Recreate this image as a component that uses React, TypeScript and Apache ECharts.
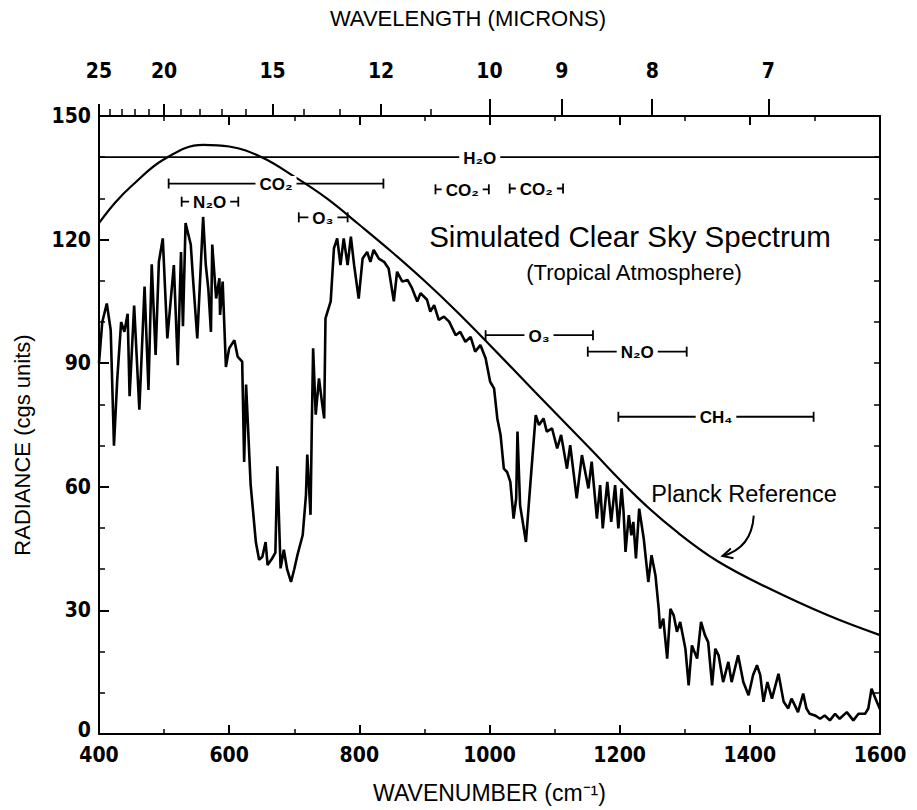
import React, { useEffect, useRef } from "react";
import * as echarts from "echarts";

// ---- data ----
const spectrumWavenumber = [
  400, 405, 412, 418, 423, 428, 434, 439, 444, 447, 454, 462, 470, 476, 481, 487, 492, 498, 505, 515,
  521, 526, 529, 533, 541, 544, 551, 560, 564, 568, 572, 574, 580, 585, 586, 590, 595, 600, 608, 613,
  620, 623, 626, 633, 641, 646, 651, 656, 659, 666, 671, 674, 677, 679, 684, 689, 695, 700, 705, 713,
  718, 720, 722, 725, 727, 729, 733, 738, 743, 746, 748, 756, 761, 766, 771, 776, 782, 787, 792, 799,
  805, 812, 817, 822, 830, 838, 845, 853, 858, 866, 874, 881, 889, 894, 904, 909, 915, 922, 930, 938,
  948, 955, 963, 971, 978, 986, 994, 1001, 1007, 1012, 1017, 1022, 1027, 1032, 1037, 1041, 1043, 1047, 1056, 1063,
  1071, 1076, 1083, 1088, 1096, 1104, 1110, 1119, 1124, 1134, 1142, 1152, 1157, 1165, 1170, 1174, 1181, 1187, 1193, 1198,
  1203, 1206, 1209, 1214, 1218, 1221, 1225, 1230, 1237, 1244, 1249, 1255, 1260, 1262, 1267, 1273, 1278, 1283, 1288, 1293,
  1301, 1306, 1311, 1319, 1325, 1331, 1336, 1342, 1347, 1352, 1359, 1367, 1372, 1382, 1390, 1398, 1405, 1411, 1416, 1421,
  1427, 1434, 1444, 1452, 1459, 1464, 1469, 1474, 1482, 1487, 1492, 1500, 1508, 1515, 1523, 1531, 1538, 1549, 1559, 1567,
  1577, 1582, 1587, 1593, 1600,
];
const spectrumRadiance = [
  90, 100, 104.5, 98, 70, 86, 100, 97.6, 102, 82, 104, 78.7, 108.6, 83.5, 114, 92, 114.6, 120.3, 96, 113.8,
  89.5, 117, 99, 124, 118.8, 111.5, 96, 125.5, 114, 108, 97.6, 118.8, 105.7, 110.6, 101.7, 109.8, 89.1, 93.6, 95.6, 91.6,
  90.4, 66, 84.8, 60.5, 46.6, 42.3, 43, 46.6, 41, 42.6, 44, 65, 50, 40.2, 44.7, 40, 36.9, 40, 43.5, 48.3,
  58, 67.8, 62, 53.2, 75, 93.6, 77.5, 86.3, 80, 76.6, 100.9, 105, 117.9, 120.3, 113.8, 120.3, 113.8, 120.7, 113.8, 105.7,
  115.4, 117, 114.6, 117.5, 115.4, 114.6, 113, 105, 112.2, 109.8, 110.2, 108.2, 105, 107, 105.4, 102.5, 104.1, 100.5, 101.3, 100.1,
  96.8, 97.6, 95.2, 96.4, 92.8, 94.4, 91.2, 85.5, 83.9, 76.6, 72.6, 64.4, 63.6, 61.2, 52.3, 57.2, 73.4, 55.5, 46.6, 61.2,
  77.4, 75, 76.6, 73.4, 74.2, 69.3, 72.6, 64.4, 70.1, 57.2, 67.7, 59.6, 66.1, 52.3, 60.4, 49.9, 61.2, 51.5, 60.4, 49.9,
  59.6, 53.9, 44.2, 53.1, 48.2, 51.5, 42.6, 54.7, 47.4, 36.9, 43.4, 38.5, 30.4, 25.6, 28, 18.3, 30.4, 28.8, 24.8, 27.2,
  20.7, 11.8, 21.5, 18.3, 27.2, 24, 22.3, 11.8, 20.7, 19.1, 12.6, 17.5, 12.6, 19.1, 12.6, 9.4, 14.3, 16.7, 14.3, 7.8,
  12.6, 8.6, 14.6, 7.8, 6.2, 8.6, 7, 5.3, 9.8, 6.2, 4.9, 4.5, 3.7, 4.5, 3.3, 4.9, 3.7, 5.3, 3.3, 4.9,
  4.9, 6.2, 11, 8.6, 6,
];

const planckWavenumber = [400, 425, 450, 500, 560, 600, 650, 700, 750, 800, 850, 900, 950, 1000, 1070, 1150, 1230, 1290, 1350, 1426, 1520, 1600];
const planckRadiance = [124, 129, 133, 139.5, 143, 142.6, 140, 135.3, 130, 123.6, 117, 110, 102.5, 94.5, 83, 70, 57, 48.8, 42, 35.6, 28.8, 24];

const wavenumberTicks = [400, 600, 800, 1000, 1200, 1400, 1600];
const radianceTicks = [0, 30, 60, 90, 120, 150];
const wavelengthShortTicks = [25, 20, 15, 12];
const wavelengthLongTicks = [10, 9, 8, 7];
const wavelengthMinor = [24, 23, 22, 21, 19, 18, 17, 16, 14, 13, 11];

const bandNames = ["H₂O", "CO₂", "N₂O", "O₃", "CO₂", "CO₂", "O₃", "N₂O", "CH₄"];
const bandStart = [400, 507, 527, 707, 917, 1031, 994, 1151, 1198];
const bandEnd = [1600, 837, 614, 782, 999, 1113, 1159, 1303, 1498];
const bandLevel = [140, 133.6, 129.2, 125.4, 132.2, 132.4, 96.8, 92.8, 77];
const bandLabelAt = [985, 672, 570, 744, 958, 1072, 1076, 1227, 1348];
const bandHasCaps = [false, true, true, true, true, true, true, true, true];

const NUM_FONT = '"Liberation Sans Narrow", "DejaVu Sans Condensed", "Liberation Sans", sans-serif';
const TXT_FONT = '"Liberation Sans", Arial, sans-serif';

export default function App() {
  const ref = useRef<HTMLDivElement>(null);

  useEffect(() => {
    if (!ref.current) return;
    const chart = echarts.init(ref.current, undefined, { renderer: "svg" });

    const axisLine = { show: true, onZero: false, lineStyle: { color: "#000", width: 2 } };
    const toCm = (w: number) => 1e4 / w;
    const plain = (v: number) => String(v);
    const wavelengthAll = [...wavelengthShortTicks, ...wavelengthLongTicks];

    const option: any = {
      animation: false,
      backgroundColor: "#fff",
      grid: { left: 99, right: 37, top: 116, bottom: 76, containLabel: false },
      xAxis: [
        {
          type: "value",
          position: "bottom",
          min: 400,
          max: 1600,
          interval: 200,
          axisLine,
          axisTick: { show: true, inside: true, length: 9, lineStyle: { color: "#000", width: 2 } },
          minorTick: { show: true, splitNumber: 2, length: 5, lineStyle: { color: "#000", width: 1.5 } },
          splitLine: { show: false },
          axisLabel: {
            show: true,
            margin: 12,
            color: "#000",
            fontFamily: NUM_FONT,
            fontWeight: "bold",
            fontSize: 21,
            lineHeight: 18,
            customValues: wavenumberTicks,
            formatter: plain,
          },
          name: "WAVENUMBER (cm⁻¹)",
          nameLocation: "middle",
          nameGap: 47,
          nameTextStyle: { color: "#000", fontFamily: TXT_FONT, fontSize: 23 },
        },
        {
          type: "value",
          position: "top",
          min: 400,
          max: 1600,
          interval: 200,
          axisLine,
          axisTick: { show: true, inside: true, length: 9, lineStyle: { color: "#000", width: 2 } },
          minorTick: { show: true, splitNumber: 2, length: 5, lineStyle: { color: "#000", width: 1.5 } },
          splitLine: { show: false },
          axisLabel: { show: false },
        },
        {
          type: "value",
          position: "top",
          min: 400,
          max: 1600,
          axisLine: { show: false, onZero: false },
          axisTick: {
            show: true,
            inside: false,
            length: 12,
            customValues: wavelengthShortTicks.map(toCm),
            lineStyle: { color: "#000", width: 2 },
          },
          splitLine: { show: false },
          axisLabel: {
            show: true,
            margin: 35,
            color: "#000",
            fontFamily: NUM_FONT,
            fontWeight: "bold",
            fontSize: 21,
            customValues: wavelengthAll.map(toCm),
            formatter: (v: number) => String(Math.round(1e4 / v)),
          },
        },
        {
          type: "value",
          position: "top",
          min: 400,
          max: 1600,
          axisLine: { show: false, onZero: false },
          axisTick: {
            show: true,
            inside: false,
            length: 7,
            customValues: wavelengthMinor.map(toCm),
            lineStyle: { color: "#000", width: 1.5 },
          },
          splitLine: { show: false },
          axisLabel: { show: false },
        },
        {
          type: "value",
          position: "top",
          min: 400,
          max: 1600,
          axisLine: { show: false, onZero: false },
          axisTick: {
            show: true,
            inside: false,
            length: 17,
            customValues: wavelengthLongTicks.map(toCm),
            lineStyle: { color: "#000", width: 2 },
          },
          splitLine: { show: false },
          axisLabel: { show: false },
        },
      ],
      yAxis: [
        {
          type: "value",
          position: "left",
          min: 0,
          max: 150,
          interval: 30,
          axisLine,
          axisTick: { show: true, inside: true, length: 10, lineStyle: { color: "#000", width: 2 } },
          minorTick: { show: true, splitNumber: 3, length: 6, lineStyle: { color: "#000", width: 1.5 } },
          splitLine: { show: false },
          axisLabel: {
            show: true,
            margin: 8,
            color: "#000",
            fontFamily: NUM_FONT,
            fontWeight: "bold",
            fontSize: 21,
            lineHeight: 18,
            customValues: radianceTicks,
            formatter: (v: number) => (v === 0 ? "{z|0}" : String(v)),
            rich: {
              z: {
                fontFamily: NUM_FONT,
                fontWeight: "bold",
                fontSize: 21,
                lineHeight: 18,
                color: "#000",
                padding: [0, 0, 8, 0],
              },
            },
          },
        },
        {
          type: "value",
          position: "right",
          min: 0,
          max: 150,
          interval: 10,
          axisLine,
          axisTick: { show: true, inside: true, length: 6, lineStyle: { color: "#000", width: 1.5 } },
          splitLine: { show: false },
          axisLabel: { show: false },
        },
      ],
      series: [
        {
          name: "Simulated spectrum",
          type: "line",
          xAxisIndex: 0,
          yAxisIndex: 0,
          data: spectrumWavenumber.map((x, i) => [x, spectrumRadiance[i]]),
          showSymbol: false,
          lineStyle: { color: "#000", width: 2.6 },
          z: 3,
        },
        {
          name: "Planck Reference",
          type: "line",
          xAxisIndex: 0,
          yAxisIndex: 0,
          data: planckWavenumber.map((x, i) => [x, planckRadiance[i]]),
          smooth: 0.4,
          showSymbol: false,
          lineStyle: { color: "#000", width: 2.2 },
          z: 4,
        },
        {
          name: "Bands",
          type: "custom",
          xAxisIndex: 0,
          yAxisIndex: 0,
          data: bandStart.map((s, i) => [s, bandLevel[i], bandEnd[i], bandLabelAt[i]]),
          encode: { x: [0, 2], y: 1 },
          z: 5,
          renderItem: (params: any, api: any) => {
            const i = params.dataIndex;
            const p0 = api.coord([bandStart[i], bandLevel[i]]);
            const p1 = api.coord([bandEnd[i], bandLevel[i]]);
            const pl = api.coord([bandLabelAt[i], bandLevel[i]]);
            const children: any[] = [
              {
                type: "line",
                shape: { x1: p0[0], y1: p0[1], x2: p1[0], y2: p1[1] },
                style: { stroke: "#000", lineWidth: 1.8 },
              },
            ];
            if (bandHasCaps[i]) {
              [p0, p1].forEach((p) =>
                children.push({
                  type: "line",
                  shape: { x1: p[0], y1: p[1] - 5, x2: p[0], y2: p[1] + 5 },
                  style: { stroke: "#000", lineWidth: 1.8 },
                })
              );
            }
            children.push({
              type: "text",
              x: pl[0],
              y: pl[1] + 1,
              style: {
                text: bandNames[i],
                fill: "#000",
                font: `bold 17px ${TXT_FONT}`,
                align: "center",
                verticalAlign: "middle",
                backgroundColor: "#fff",
                padding: [0, 4],
              },
            });
            return { type: "group", children };
          },
        },
      ],
    };

    chart.setOption(option);

    // annotations
    const tip = chart.convertToPixel({ xAxisIndex: 0, yAxisIndex: 0 }, [1358, 43.2]) as number[];
    const start = chart.convertToPixel({ xAxisIndex: 0, yAxisIndex: 0 }, [1406, 53]) as number[];
    const ctrl = [start[0] - 2, tip[1] - 8];
    const dx = tip[0] - ctrl[0];
    const dy = tip[1] - ctrl[1];
    const len = Math.hypot(dx, dy) || 1;
    const ux = dx / len;
    const uy = dy / len;
    const px = -uy;
    const py = ux;
    const wing1 = [tip[0] - 10 * ux + 5 * px, tip[1] - 10 * uy + 5 * py];
    const wing2 = [tip[0] - 10 * ux - 5 * px, tip[1] - 10 * uy - 5 * py];

    chart.setOption({
      graphic: [
        {
          type: "text",
          x: 468,
          y: 18,
          style: {
            text: "WAVELENGTH (MICRONS)",
            fill: "#000",
            font: `22px ${TXT_FONT}`,
            align: "center",
            verticalAlign: "middle",
          },
        },
        {
          type: "text",
          x: 22,
          y: 445,
          rotation: Math.PI / 2,
          style: {
            text: "RADIANCE (cgs units)",
            fill: "#000",
            font: `22px ${TXT_FONT}`,
            align: "center",
            verticalAlign: "middle",
          },
        },
        {
          type: "text",
          x: 630,
          y: 236,
          style: {
            text: "Simulated Clear Sky Spectrum",
            fill: "#000",
            font: `29.5px ${TXT_FONT}`,
            align: "center",
            verticalAlign: "middle",
          },
        },
        {
          type: "text",
          x: 634,
          y: 272,
          style: {
            text: "(Tropical Atmosphere)",
            fill: "#000",
            font: `22px ${TXT_FONT}`,
            align: "center",
            verticalAlign: "middle",
          },
        },
        {
          type: "text",
          x: 744,
          y: 494,
          style: {
            text: "Planck Reference",
            fill: "#000",
            font: `23.5px ${TXT_FONT}`,
            align: "center",
            verticalAlign: "middle",
          },
        },
        {
          type: "bezierCurve",
          shape: { x1: start[0], y1: start[1], x2: tip[0], y2: tip[1], cpx1: ctrl[0], cpy1: ctrl[1] },
          style: { stroke: "#000", lineWidth: 2, fill: null },
        },
        {
          type: "polyline",
          shape: { points: [wing1, tip, wing2] },
          style: { stroke: "#000", lineWidth: 2, fill: null },
        },
      ],
    });

    return () => chart.dispose();
  }, []);

  return (
    <div
      ref={ref}
      style={{ position: "fixed", left: 0, top: 0, width: 917, height: 810, background: "#fff" }}
    />
  );
}
